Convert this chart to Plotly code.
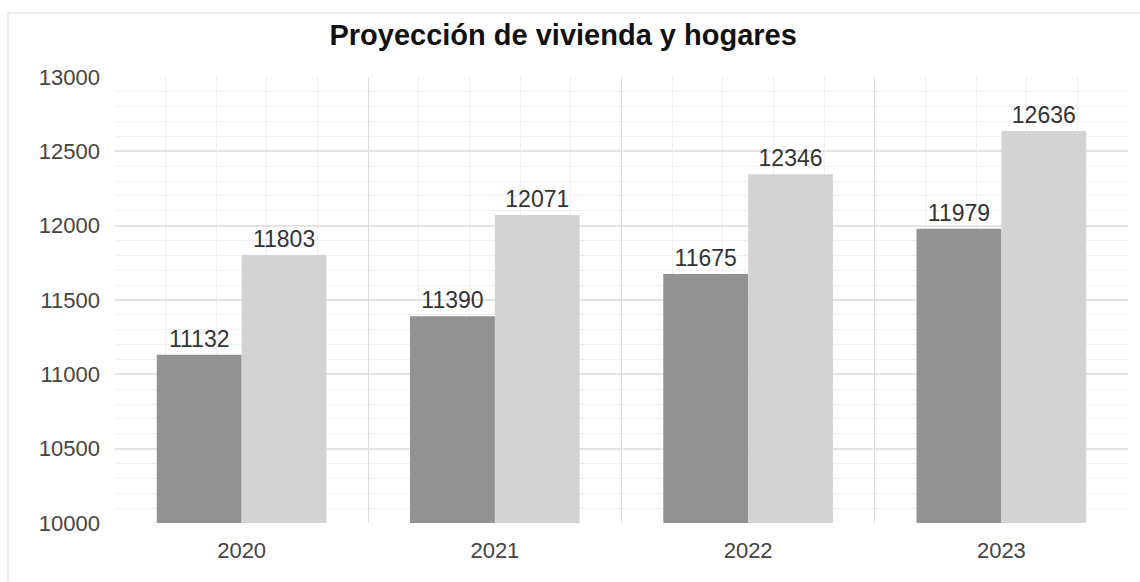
import plotly.graph_objects as go

# Datos: proyección anual de viviendas y hogares
years = ["2020", "2021", "2022", "2023"]
viviendas = [11132, 11390, 11675, 11979]
hogares = [11803, 12071, 12346, 12636]
y_ticks = [10000, 10500, 11000, 11500, 12000, 12500, 13000]

FONT = "Arial, Liberation Sans, sans-serif"
pos = list(range(len(years)))

fig = go.Figure()
fig.add_trace(go.Bar(
    x=pos, y=viviendas, name="Viviendas",
    marker=dict(color="#929292", line=dict(width=0)),
    text=[str(v) for v in viviendas], textposition="outside",
    textfont=dict(family=FONT, size=23, color="#333333"),
    cliponaxis=False,
))
fig.add_trace(go.Bar(
    x=pos, y=hogares, name="Hogares",
    marker=dict(color="#d3d3d3", line=dict(width=0)),
    text=[str(v) for v in hogares], textposition="outside",
    textfont=dict(family=FONT, size=23, color="#333333"),
    cliponaxis=False,
))
# invisible helper trace so the category-boundary grid axis is rendered
fig.add_trace(go.Scatter(x=[-0.5, len(years) - 0.5], y=[10000, 10000],
                         xaxis="x2", mode="lines", line=dict(width=0),
                         hoverinfo="skip", showlegend=False))

xr = [-0.5, len(years) - 0.5]
fig.update_layout(
    width=1140, height=582,
    margin=dict(l=115, r=12, t=77, b=59),
    paper_bgcolor="white", plot_bgcolor="white",
    barmode="group", bargap=0.33, bargroupgap=0,
    showlegend=False,
    title=dict(text="<b>Proyección de vivienda y hogares</b>",
               x=0.494, xanchor="center", y=0.94, yanchor="middle",
               font=dict(family=FONT, size=29, color="#111111")),
    xaxis=dict(range=xr, tickvals=pos, ticktext=years, showgrid=False,
               zeroline=False, showline=False, ticks="",
               ticklabelstandoff=12,
               tickfont=dict(family=FONT, size=22, color="#444444")),
    xaxis2=dict(range=xr, overlaying="x", tick0=-0.5, dtick=1,
                showgrid=True, gridcolor="#dcdcdc", gridwidth=1,
                showticklabels=False, zeroline=False, ticks="",
                minor=dict(tick0=-0.5, dtick=0.2, showgrid=True,
                           gridcolor="#efefef", gridwidth=1)),
    yaxis=dict(range=[10000, 13000], tickvals=y_ticks,
               ticktext=[str(t) for t in y_ticks],
               showgrid=True, gridcolor="#e3e3e3", gridwidth=1.5,
               zeroline=False, showline=False, ticks="",
               ticklabelstandoff=14,
               minor=dict(dtick=100, showgrid=True, gridcolor="#f0f0f0",
                          gridwidth=1),
               tickfont=dict(family=FONT, size=22, color="#444444")),
    shapes=[dict(type="rect", xref="paper", yref="paper",
                 x0=-0.1056, x1=1.5, y0=-1.0, y1=1.1435,
                 line=dict(color="#e6e6e6", width=1.5),
                 fillcolor="rgba(0,0,0,0)", layer="below")],
)

fig.write_html("out.html")
